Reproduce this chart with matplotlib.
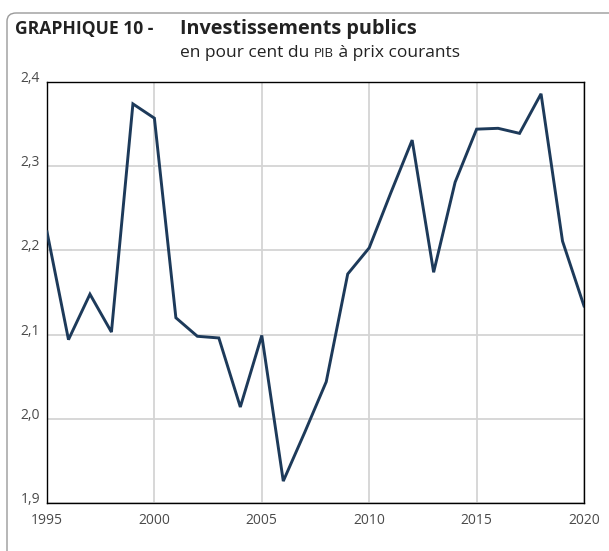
import matplotlib
matplotlib.use("Agg")
import matplotlib.pyplot as plt
from matplotlib.patches import FancyBboxPatch

plt.rcParams['font.family'] = ['Open Sans', 'DejaVu Sans']

# données
annees = list(range(1995, 2021))
invest = [2.222, 2.094, 2.148, 2.103, 2.374, 2.357, 2.120, 2.098, 2.096, 2.014,
          2.099, 1.926, 1.984, 2.044, 2.172, 2.203, 2.268, 2.331, 2.174, 2.281,
          2.344, 2.345, 2.339, 2.386, 2.211, 2.134]
yticks = [1.9, 2.0, 2.1, 2.2, 2.3, 2.4]
xticks = [1995, 2000, 2005, 2010, 2015, 2020]

LINE = '#1d3a5a'
GRID = '#d4d4d4'
TXT = '#4a4a4a'

fig = plt.figure(figsize=(6.09, 5.51), dpi=100)
W, H = 609, 551

# cadre arrondi
cadre = FancyBboxPatch((7 / W, -0.1), 1.2, 1.1 - 13 / H,
                       boxstyle='round,pad=0,rounding_size=0.015',
                       transform=fig.transFigure, fill=False,
                       edgecolor='#9a9a9a', linewidth=1.0)
fig.patches.append(cadre)

ax = fig.add_axes([47 / W, 1 - 503 / H, (584 - 47) / W, (503 - 82) / H])
ax.plot(annees, invest, color=LINE, linewidth=2.1, solid_joinstyle='miter', zorder=3)
ax.set_xlim(1995, 2020)
ax.set_ylim(1.9, 2.4)
ax.set_xticks(xticks)
ax.set_yticks(yticks)
ax.set_yticklabels([f'{v:.1f}'.replace('.', ',') for v in yticks], va='baseline')
ax.grid(True, color=GRID, linewidth=1.3)
ax.set_axisbelow(True)
for s in ax.spines.values():
    s.set_color('black')
    s.set_linewidth(1.0)
ax.tick_params(axis='both', length=0, labelsize=10, labelcolor=TXT)
ax.tick_params(axis='x', pad=7)
ax.tick_params(axis='y', pad=5)

# titres
fig.text(15 / W, 1 - 34 / H, 'GRAPHIQUE 10 -', fontsize=12.6, fontweight='bold',
         color='#222222', va='baseline')
fig.text(180 / W, 1 - 34 / H, 'Investissements publics', fontsize=14.3, fontweight='bold',
         color='#222222', va='baseline')

renderer = fig.canvas.get_renderer()
x0 = 180
base = 1 - 57 / H
t1 = fig.text(x0 / W, base, 'en pour cent du ', fontsize=12.5, color='#222222', va='baseline')
x1 = t1.get_window_extent(renderer).x1
t2 = fig.text(x1 / W, base, 'PIB', fontsize=9.5, color='#222222', va='baseline')
x2 = t2.get_window_extent(renderer).x1
fig.text(x2 / W, base, ' à prix courants', fontsize=12.5, color='#222222', va='baseline')

fig.savefig('out.png', dpi=100)
